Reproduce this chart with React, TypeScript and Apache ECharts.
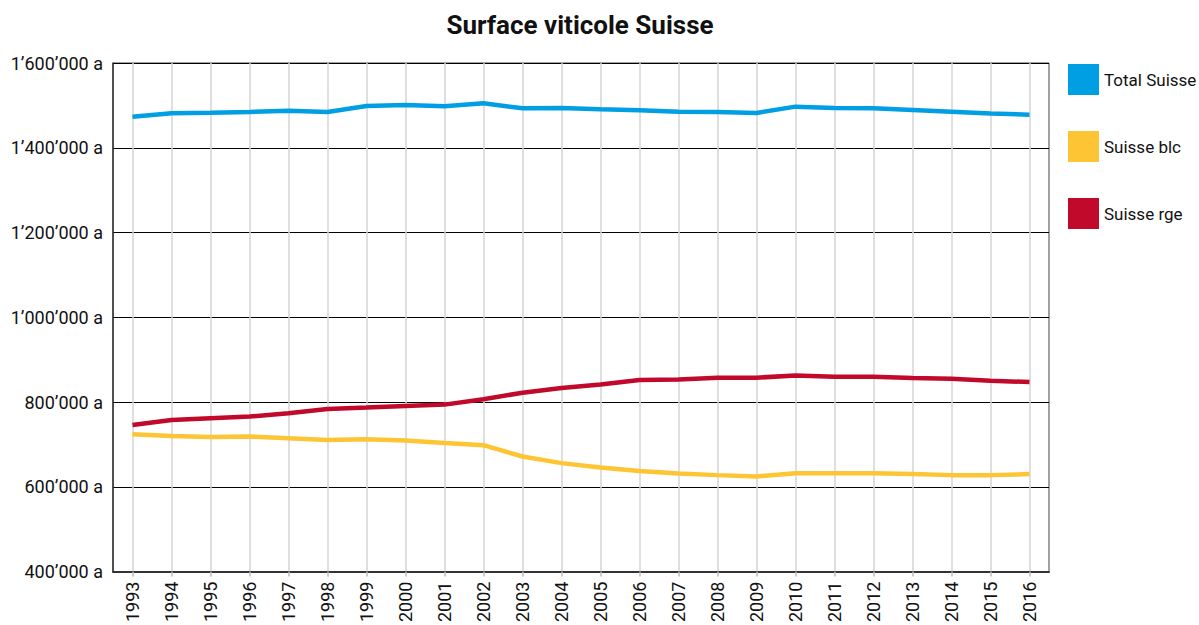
import React, { useEffect, useRef } from "react";
import * as echarts from "echarts";

const years = ["1993","1994","1995","1996","1997","1998","1999","2000","2001","2002","2003","2004","2005","2006","2007","2008","2009","2010","2011","2012","2013","2014","2015","2016"];
const totalSuisse = [1473400,1481400,1482800,1484500,1487600,1484500,1498600,1501000,1497900,1505000,1493200,1493900,1490800,1488400,1485200,1484500,1482100,1497000,1494000,1493200,1489200,1485200,1480600,1478100];
const suisseBlc = [724000,720000,717600,718500,714600,710600,712200,709100,703500,698100,671500,655800,645600,637000,631500,627500,624400,632200,632200,632200,629900,627500,627500,629900];
const suisseRge = [745900,757600,761600,765600,773400,783500,786800,790600,793900,806400,822100,833000,841600,851800,853400,857400,857400,862800,859700,859700,856500,855000,850300,847000];
const seriesNames = ["Total Suisse", "Suisse blc", "Suisse rge"];
const colors = ["#009fe3", "#fdc533", "#c0092b"];

const FONT = "Roboto, 'Noto Sans', sans-serif";

function fmt(v: number): string {
  const s = Math.round(v).toString();
  return s.replace(/\B(?=(\d{3})+(?!\d))/g, "\u2019") + " a";
}

export default function App() {
  const ref = useRef<HTMLDivElement>(null);
  useEffect(() => {
    document.body.style.margin = "0";
    const chart = echarts.init(ref.current!, undefined, { renderer: "svg" });
    const data = [totalSuisse, suisseBlc, suisseRge];
    chart.setOption({
      animation: false,
      backgroundColor: "#ffffff",
      graphic: [
        {
          type: "text",
          x: 580,
          y: 12,
          style: {
            text: "Surface viticole Suisse",
            fill: "#111",
            fontFamily: "Roboto",
            fontWeight: "bold",
            fontSize: 26,
            textAlign: "center",
          },
        },
      ],
      legend: {
        orient: "vertical",
        left: 1068,
        top: 64,
        padding: 0,
        itemWidth: 31,
        itemHeight: 31,
        itemGap: 36,
        icon: "rect",
        data: seriesNames,
        textStyle: { fontFamily: FONT, fontSize: 17, color: "#111", padding: [6, 0, 0, 0] },
      },
      grid: {
        left: 113,
        right: 150,
        top: 63,
        bottom: 53,
        show: true,
        borderColor: "#444",
        borderWidth: 1,
      },
      xAxis: {
        type: "category",
        data: years,
        boundaryGap: true,
        axisLine: { lineStyle: { color: "#333", width: 2 } },
        axisTick: { show: true, alignWithLabel: true, length: 5, lineStyle: { color: "#bbb", width: 1.5 } },
        splitLine: { show: true, alignWithLabel: true, lineStyle: { color: "#d4d4d4", width: 1.5 } },
        axisLabel: {
          rotate: 90,
          interval: 0,
          margin: 10,
          fontFamily: FONT,
          fontSize: 18,
          color: "#111",
        },
      },
      yAxis: {
        type: "value",
        min: 400000,
        max: 1600000,
        interval: 200000,
        axisLine: { show: true, lineStyle: { color: "#333", width: 1.5 } },
        axisTick: { show: false },
        splitLine: { show: true, lineStyle: { color: "#000", width: 1 } },
        axisLabel: {
          margin: 10,
          fontFamily: FONT,
          fontSize: 18,
          color: "#111",
          formatter: (v: number) => fmt(v),
        },
      },
      series: seriesNames.map((name, i) => ({
        name,
        type: "line",
        data: data[i],
        showSymbol: false,
        symbol: "none",
        lineStyle: { color: colors[i], width: 4.5 },
        itemStyle: { color: colors[i] },
      })),
    });
    return () => chart.dispose();
  }, []);
  return <div ref={ref} style={{ width: 1199, height: 625 }} />;
}
